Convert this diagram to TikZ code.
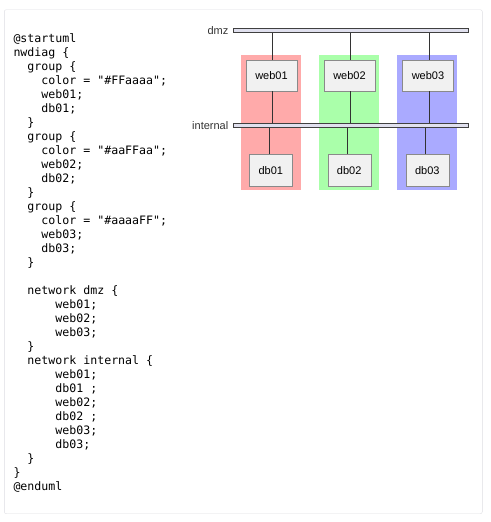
\documentclass[tikz,border=0pt]{standalone}
\usepackage{fontspec}
\setmainfont{Liberation Sans}
\newfontfamily\codefont{DejaVu Sans Mono}
\usetikzlibrary{positioning}
\definecolor{grpred}{HTML}{FFAAAA}
\definecolor{grpgreen}{HTML}{AAFFAA}
\definecolor{grpblue}{HTML}{AAAAFF}
\definecolor{boxfill}{HTML}{F1F1F1}
\definecolor{boxline}{HTML}{8A8A8A}
\definecolor{barfill}{HTML}{E0E0EE}
\definecolor{framegray}{HTML}{DDDDE2}
\tikzset{
  hostbox/.style={draw=boxline, fill=boxfill, inner sep=0pt, minimum width=51pt, minimum height=31pt, font=\fontsize{11}{13}\selectfont},
  dbbox/.style={hostbox, minimum width=43pt, minimum height=32pt},
  netbar/.style={draw=black!75, fill=barfill, inner sep=0pt, minimum width=235pt, minimum height=4.5pt},
  netlabel/.style={inner sep=0pt, font=\fontsize{11}{13}\selectfont, text=black!80},
  wire/.style={draw=black!80, line width=0.8pt},
}
\begin{document}
\begin{tikzpicture}[x=1pt,y=-1pt]
  \useasboundingbox (0,0) rectangle (490,522);
  % frame
  \draw[framegray, fill=white, rounded corners=2pt] (4.3,9.7) rectangle (482.3,513.7);
  % source text
  \node[anchor=north west, align=left, inner sep=0pt, font={\codefont\fontsize{11.6}{14}\selectfont}] (code) at (13.3,33.2) {%
@startuml\\
nwdiag \{\\
~~group \{\\
~~~~color = "\#FFaaaa";\\
~~~~web01;\\
~~~~db01;\\
~~\}\\
~~group \{\\
~~~~color = "\#aaFFaa";\\
~~~~web02;\\
~~~~db02;\\
~~\}\\
~~group \{\\
~~~~color = "\#aaaaFF";\\
~~~~web03;\\
~~~~db03;\\
~~\}\\
~\\
~~network dmz \{\\
~~~~~~web01;\\
~~~~~~web02;\\
~~~~~~web03;\\
~~\}\\
~~network internal \{\\
~~~~~~web01;\\
~~~~~~db01 ;\\
~~~~~~web02;\\
~~~~~~db02 ;\\
~~~~~~web03;\\
~~~~~~db03;\\
~~\}\\
\}\\
@enduml};
  % groups
  \fill[grpred] (241,55) rectangle (301,190);
  \fill[grpgreen] (319,55) rectangle (379,190);
  \fill[grpblue] (397.3,55) rectangle (457.3,190);
  % networks
  \node[netbar] (dmz) at (350.2,30.3) {};
  \node[netbar] (internal) at (350.2,125.2) {};
  \node[netlabel, left=4pt of dmz] (dmzname) {dmz};
  \node[netlabel, left=4pt of internal] (internalname) {internal};
  % hosts
  \node[hostbox] (web01) at (271.5,75.5) {web01};
  \node[hostbox] (web02) at (349.5,75.5) {web02};
  \node[hostbox] (web03) at (428,75.5) {web03};
  \node[dbbox] (db01) at (270.8,170.2) {db01};
  \node[dbbox] (db02) at (349.2,170.2) {db02};
  \node[dbbox] (db03) at (427.3,170.2) {db03};
  % links
  \foreach \h in {web01,web02,web03}{
    \draw[wire] ([xshift=1.2pt]\h.north) -- ([xshift=1.2pt]\h.north |- dmz.south);
    \draw[wire] ([xshift=1.2pt]\h.south) -- ([xshift=1.2pt]\h.south |- internal.north);
  }
  \foreach \h in {db01,db02,db03}
    \draw[wire] ([xshift=-1.5pt]\h.north) -- ([xshift=-1.5pt]\h.north |- internal.south);
\end{tikzpicture}
\end{document}
